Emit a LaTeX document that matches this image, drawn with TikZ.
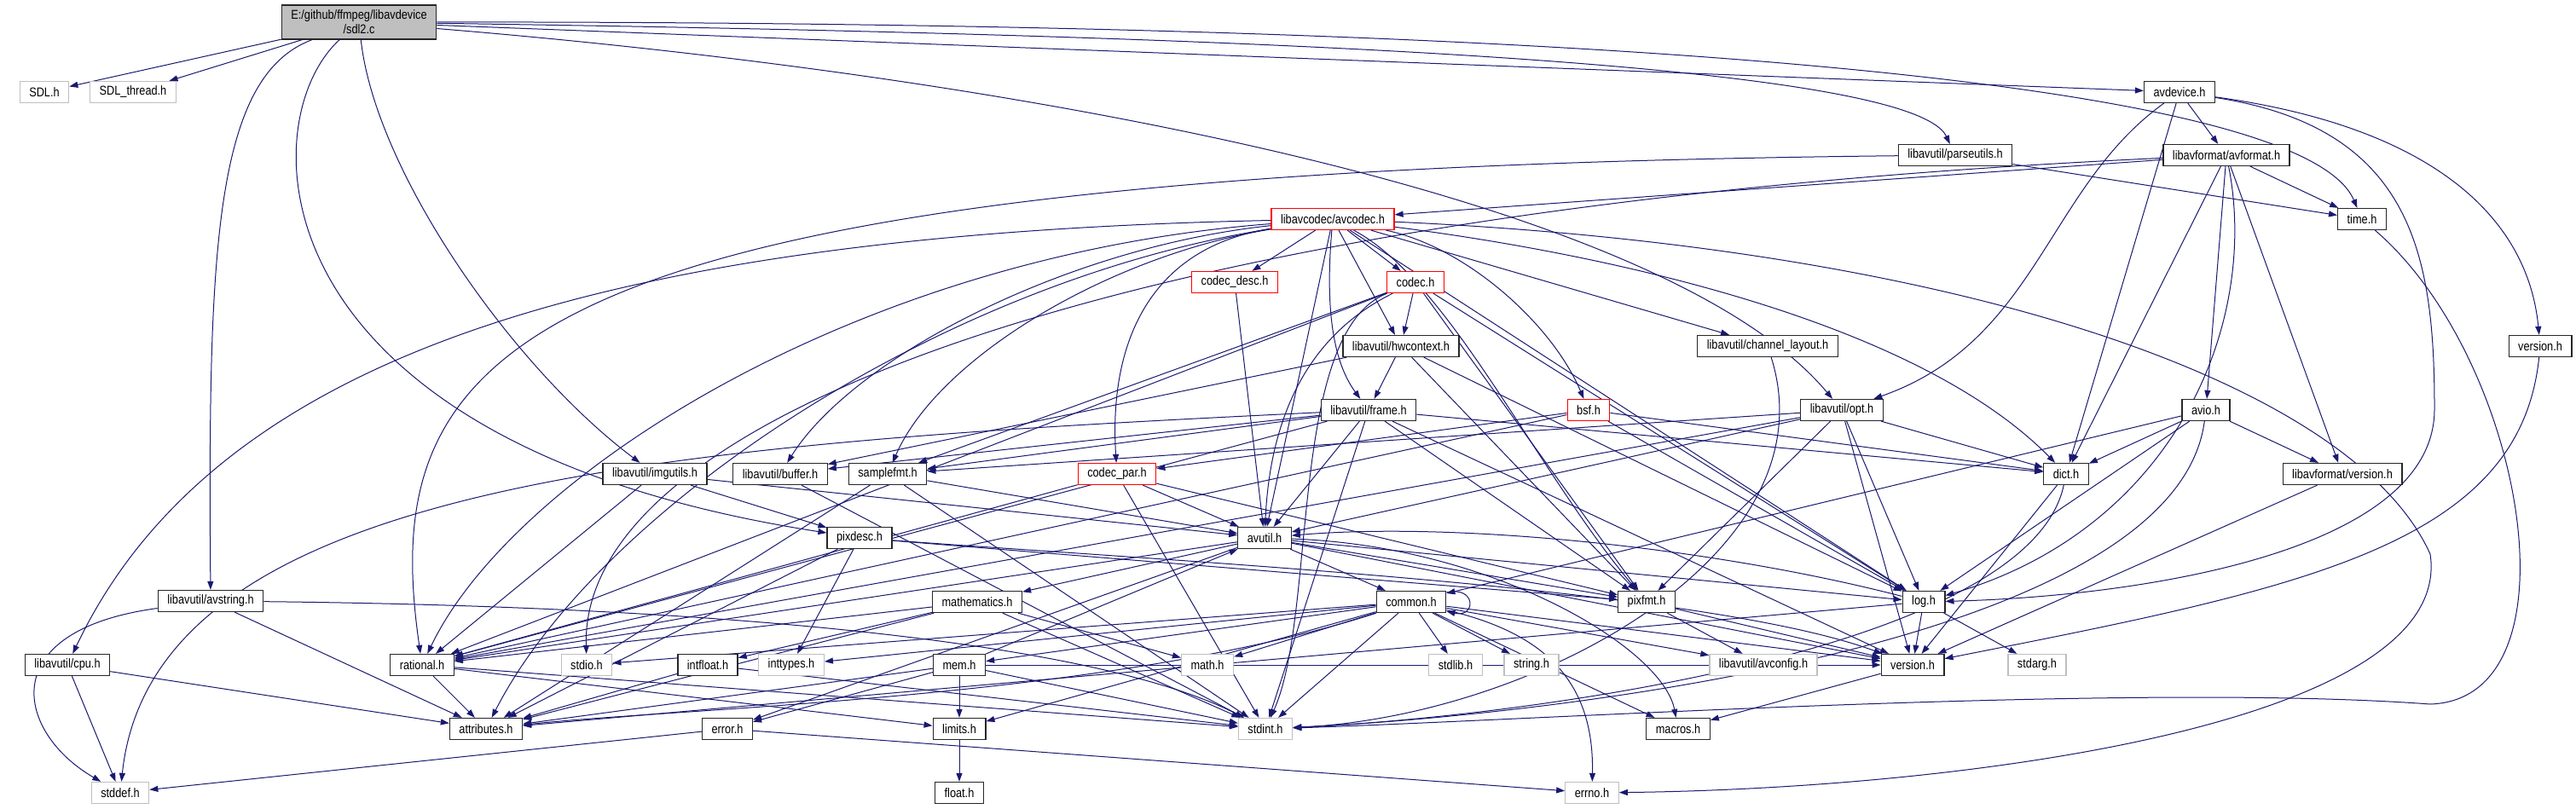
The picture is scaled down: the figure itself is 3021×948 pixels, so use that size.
\documentclass[tikz,border=0pt]{standalone}
\usepackage{fontspec}
\usepackage{tikz}
\usetikzlibrary{arrows.meta,backgrounds}

\newfontfamily\dotfont{Liberation Sans}[FakeStretch=0.85]
\definecolor{edgeblue}{HTML}{191970}
\definecolor{boxgray}{HTML}{BFBFBF}

\tikzset{
  hfile/.style={draw=black!85, line width=1.3pt, fill=white, inner xsep=11pt,
    inner ysep=0pt, minimum height=25pt, font=\dotfont\fontsize{15}{17}\selectfont},
  sysfile/.style={hfile, draw=boxgray},
  cutfile/.style={hfile, draw=red},
  srcfile/.style={hfile, fill=boxgray, align=center, minimum height=40pt},
  inc/.style={->, color=edgeblue, line width=1pt}
}

\begin{document}
\begin{tikzpicture}[x=1pt, y=-1pt, >={Triangle[length=10pt,width=7pt]}]
  \useasboundingbox (0,0) rectangle (3021,948);

  % Source file
  \node[srcfile] (main) at (421,26) {E:/github/ffmpeg/libavdevice\\/sdl2.c};

  % libavdevice / libavformat
  \node[sysfile] (SDL) at (52,108) {SDL.h};
  \node[sysfile] (SDLthread) at (156,108) {SDL\_thread.h};
  \node[hfile] (avdevice) at (2556,108) {avdevice.h};
  \node[hfile] (parseutils) at (2293,182) {libavutil/parseutils.h};
  \node[hfile] (avformat) at (2611,182) {libavformat/avformat.h};
  \node[hfile] (time) at (2770,257) {time.h};
  \node[hfile] (lavdver) at (2979,406) {version.h};
  \node[hfile] (avio) at (2587,481) {avio.h};
  \node[hfile] (lavfver) at (2747,556) {libavformat/version.h};

  % libavcodec
  \node[cutfile] (avcodec) at (1563,257) {libavcodec/avcodec.h};
  \node[cutfile] (codecdesc) at (1448,331) {codec\_desc.h};
  \node[cutfile] (codec) at (1660,331) {codec.h};
  \node[cutfile] (bsf) at (1863,481) {bsf.h};
  \node[cutfile] (codecpar) at (1310,556) {codec\_par.h};

  % libavutil
  \node[hfile] (hwcontext) at (1643,406) {libavutil/hwcontext.h};
  \node[hfile] (chlayout) at (2073,406) {libavutil/channel\_layout.h};
  \node[hfile] (frame) at (1605,481) {libavutil/frame.h};
  \node[hfile] (opt) at (2160,481) {libavutil/opt.h};
  \node[hfile] (imgutils) at (768,556) {libavutil/imgutils.h};
  \node[hfile] (buffer) at (915,556) {libavutil/buffer.h};
  \node[hfile] (samplefmt) at (1041,556) {samplefmt.h};
  \node[hfile] (dict) at (2423,556) {dict.h};
  \node[hfile] (pixdesc) at (1008,631) {pixdesc.h};
  \node[hfile] (avutil) at (1483,631) {avutil.h};
  \node[hfile] (avstring) at (247,705) {libavutil/avstring.h};
  \node[hfile] (mathematics) at (1146,706) {mathematics.h};
  \node[hfile] (common) at (1655,706) {common.h};
  \node[hfile] (pixfmt) at (1931,706) {pixfmt.h};
  \node[hfile] (log) at (2256,706) {log.h};
  \node[hfile] (cpu) at (79,780) {libavutil/cpu.h};
  \node[hfile] (rational) at (495,780) {rational.h};
  \node[hfile] (intfloat) at (830,780) {intfloat.h};
  \node[hfile] (mem) at (1125,780) {mem.h};
  \node[hfile] (lavuver) at (2243,780) {version.h};
  \node[hfile] (attributes) at (570,855) {attributes.h};
  \node[hfile] (error) at (853,855) {error.h};
  \node[hfile] (limits) at (1125,855) {limits.h};
  \node[hfile] (macros) at (1968,855) {macros.h};
  \node[hfile] (float) at (1125,930) {float.h};

  % System headers
  \node[sysfile] (stdio) at (688,780) {stdio.h};
  \node[sysfile] (inttypes) at (928,780) {inttypes.h};
  \node[sysfile] (math) at (1416,780) {math.h};
  \node[sysfile] (stdlib) at (1707,780) {stdlib.h};
  \node[sysfile] (string) at (1796,780) {string.h};
  \node[sysfile] (avconfig) at (2068,780) {libavutil/avconfig.h};
  \node[sysfile] (stdarg) at (2389,780) {stdarg.h};
  \node[sysfile] (stdint) at (1484,855) {stdint.h};
  \node[sysfile] (stddef) at (141,930) {stddef.h};
  \node[sysfile] (errno) at (1867,930) {errno.h};

  % Include edges
  \begin{scope}[on background layer]
    \fill[white] (0,0) rectangle (3021,948);

    \foreach \s/\t in {main/SDL, main/SDLthread, main/avdevice,
      avdevice/avformat, avdevice/dict,
      avformat/time, avformat/avcodec, avformat/dict, avformat/avio, avformat/lavfver,
      avio/dict, avio/lavfver, avio/common, avio/log,
      lavfver/lavuver, parseutils/time,
      avcodec/avutil, avcodec/chlayout, avcodec/hwcontext, avcodec/log,
      avcodec/codec, avcodec/codecdesc,
      codec/hwcontext, codec/log, codec/pixfmt, codec/rational, codec/samplefmt,
      codecdesc/avutil,
      codecpar/stdint, codecpar/avutil, codecpar/rational, codecpar/pixfmt,
      bsf/dict, bsf/log, bsf/rational, bsf/codecpar,
      hwcontext/buffer, hwcontext/frame, hwcontext/log, hwcontext/pixfmt,
      frame/stdint, frame/avutil, frame/buffer, frame/dict, frame/rational,
      frame/samplefmt, frame/pixfmt, frame/lavuver,
      opt/rational, opt/avutil, opt/dict, opt/log, opt/pixfmt, opt/samplefmt, opt/lavuver,
      dict/lavuver,
      imgutils/avutil, imgutils/pixdesc, imgutils/rational,
      buffer/stdint,
      samplefmt/stdint, samplefmt/avutil, samplefmt/attributes,
      pixdesc/inttypes, pixdesc/attributes, pixdesc/pixfmt,
      avutil/common, avutil/error, avutil/rational, avutil/lavuver,
      avutil/mathematics, avutil/pixfmt, avutil/log,
      avstring/attributes,
      cpu/stddef, cpu/attributes,
      mathematics/stdint, mathematics/math, mathematics/attributes,
      mathematics/rational, mathematics/intfloat,
      common/inttypes, common/limits, common/math, common/stdint, common/stdio,
      common/stdlib, common/string, common/macros, common/lavuver,
      common/avconfig, common/mem,
      mem/limits, mem/stdint, mem/attributes, mem/error, mem/avutil, mem/lavuver,
      error/errno, error/stddef,
      rational/stdint, rational/limits, rational/attributes,
      intfloat/stdint, intfloat/attributes,
      log/stdarg, log/attributes, log/lavuver,
      pixfmt/avconfig, pixfmt/lavuver,
      lavuver/macros, limits/float}
      \draw[inc] (\s) -- (\t);

    % routed edges
    \draw[inc] (main) .. controls (250,90) and (244,300) .. (avstring);
    \draw[inc] (main) .. controls (295,140) and (290,520) .. (pixdesc);
    \draw[inc] (main) .. controls (440,200) and (600,430) .. (imgutils);
    \draw[inc] (main) .. controls (1200,90) and (1950,230) .. (opt);
    \draw[inc] (main) .. controls (1400,40) and (2240,70) .. (parseutils);
    \draw[inc] (main) .. controls (1600,25) and (2690,70) .. (time);
    \draw[inc] (avdevice) .. controls (2860,150) and (2965,260) .. (lavdver);
    \draw[inc] (avdevice) .. controls (2830,150) and (2855,300) .. (2855,480)
      .. controls (2855,650) and (2500,700) .. (log);
    \draw[inc] (avdevice) .. controls (2400,220) and (2390,400) .. (opt);
    \draw[inc] (avformat) .. controls (1350,240) and (680,480) .. (stdio);
    \draw[inc] (avformat) .. controls (2650,380) and (2550,620) .. (log);
    \draw[inc] (time) .. controls (2960,420) and (3030,820) .. (2850,826)
      .. controls (2500,800) and (1800,845) .. (stdint);
    \draw[inc] (lavdver) .. controls (2955,640) and (2700,690) .. (lavuver);
    \draw[inc] (parseutils) .. controls (600,200) and (440,400) .. (rational);
    \draw[inc] (avcodec) .. controls (2300,290) and (2760,450) .. (2850,650)
      .. controls (2880,850) and (2300,925) .. (errno);
    \draw[inc] (avcodec) .. controls (700,275) and (250,420) .. (cpu);
    \draw[inc] (avcodec) .. controls (1100,330) and (700,600) .. (attributes);
    \draw[inc] (avcodec) .. controls (1000,300) and (600,560) .. (rational);
    \draw[inc] (avcodec) .. controls (1555,350) and (1560,420) .. (frame);
    \draw[inc] (avcodec) .. controls (1700,330) and (1800,550) .. (pixfmt);
    \draw[inc] (avcodec) .. controls (1900,300) and (2250,380) .. (dict);
    \draw[inc] (avcodec) .. controls (1720,290) and (1820,380) .. (bsf);
    \draw[inc] (avcodec) .. controls (1350,290) and (1300,400) .. (codecpar);
    \draw[inc] (avcodec) .. controls (1300,300) and (1100,420) .. (samplefmt);
    \draw[inc] (avcodec) .. controls (1250,290) and (1000,420) .. (buffer);
    \draw[inc] (codec) .. controls (1510,390) and (1545,720) .. (stdint);
    \draw[inc] (codec) .. controls (1540,390) and (1490,480) .. (avutil);
    \draw[inc] (chlayout) .. controls (2150,650) and (1800,840) .. (stdint);
    \draw[inc] (avio) .. controls (2550,760) and (1800,840) .. (stdint);
    \draw[inc] (dict) .. controls (2380,760) and (1800,840) .. (stdint);
    \draw[inc] (frame) .. controls (800,520) and (180,560) .. (stddef);
    \draw[inc] (avstring) .. controls (-10,740) and (20,860) .. (stddef);
    \draw[inc] (avstring) .. controls (900,712) and (1300,760) .. (stdint);
    \draw[inc] (log) .. controls (2000,640) and (1700,612) .. (avutil);
    \draw[inc] (avutil) .. controls (1750,640) and (1950,760) .. (macros);
    \draw[inc] (pixdesc) .. controls (1400,660) and (2000,690) .. (lavuver);
    \draw[inc] (common) .. controls (1300,820) and (800,830) .. (attributes);
    \draw[inc] (common) .. controls (1800,740) and (1870,790) .. (errno);
    \draw[inc] (common.15) .. controls +(35,-8) and +(35,8) .. (common.-15);
  \end{scope}
\end{tikzpicture}
\end{document}
